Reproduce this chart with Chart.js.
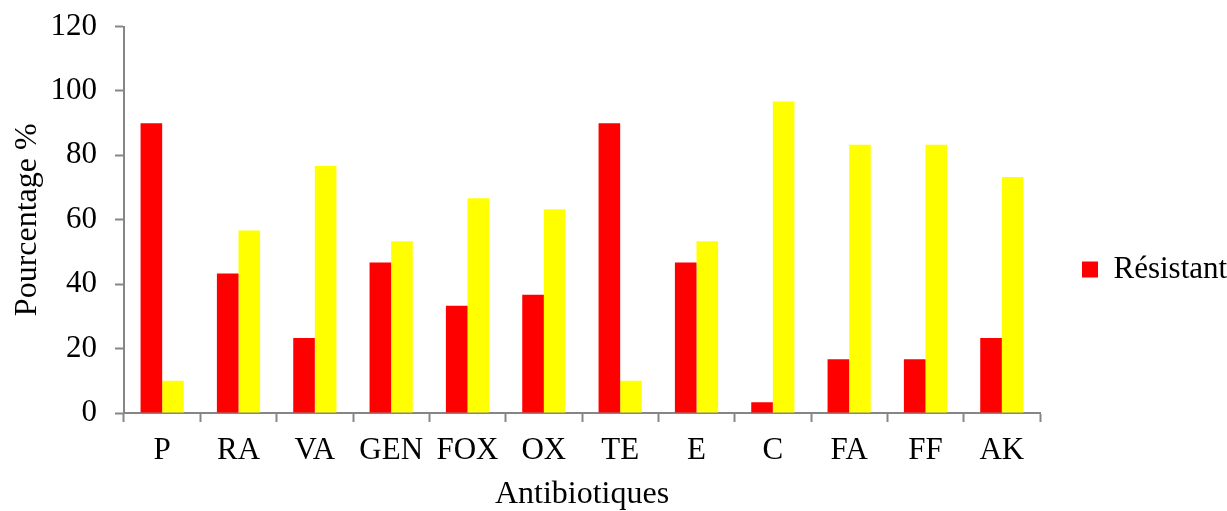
<!DOCTYPE html>
<html lang="fr">
<head>
<meta charset="utf-8">
<title>Antibiotiques</title>
<script src="https://cdn.jsdelivr.net/npm/chart.js@4.4.1/dist/chart.umd.min.js"></script>
<style>
  html, body { margin: 0; padding: 0; background: #ffffff; }
  #wrap { width: 1227px; height: 511px; position: relative; }
</style>
</head>
<body>
<div id="wrap"><canvas id="chart"></canvas></div>
<script>
// Antibiotics tested
const categories = ['P', 'RA', 'VA', 'GEN', 'FOX', 'OX', 'TE', 'E', 'C', 'FA', 'FF', 'AK'];

// Percentage of resistant strains
const resistant = [90, 43.3, 23.3, 46.7, 33.3, 36.7, 90, 46.7, 3.3, 16.7, 16.7, 23.3];

// Percentage of sensitive strains
const sensitive = [10, 56.7, 76.7, 53.3, 66.7, 63.3, 10, 53.3, 96.7, 83.3, 83.3, 73.3];

// Y-axis tick values
const yTicks = [0, 20, 40, 60, 80, 100, 120];

const serif = "'Liberation Serif', 'Times New Roman', serif";
const axisGrey = '#868686';

new Chart(document.getElementById('chart'), {
  type: 'bar',
  data: {
    labels: categories,
    datasets: [
      {
        label: 'Résistant',
        data: resistant,
        backgroundColor: '#FF0000',
        borderWidth: 0,
        categoryPercentage: 0.566,
        barPercentage: 1.0
      },
      {
        label: 'Sensible',
        data: sensitive,
        backgroundColor: '#FFFF00',
        borderWidth: 0,
        categoryPercentage: 0.566,
        barPercentage: 1.0
      }
    ]
  },
  options: {
    responsive: true,
    maintainAspectRatio: false,
    animation: false,
    layout: { padding: { top: 24, left: 0, right: 0, bottom: 0 } },
    plugins: {
      tooltip: { enabled: false },
      legend: {
        position: 'right',
        align: 'center',
        maxWidth: 187,
        title: {
          display: true,
          text: ' ',
          font: { size: 4, lineHeight: 1 },
          padding: 0
        },
        labels: {
          boxWidth: 16,
          boxHeight: 16,
          padding: 42,
          color: '#000000',
          font: { family: serif, size: 31, lineHeight: 1 },
          filter: (item) => item.datasetIndex === 0
        }
      }
    },
    scales: {
      x: {
        grid: {
          display: true,
          drawOnChartArea: false,
          drawTicks: true,
          tickLength: 9,
          tickWidth: 2,
          color: axisGrey,
          offset: true
        },
        border: { display: true, color: axisGrey, width: 2 },
        ticks: {
          color: '#000000',
          padding: 10,
          maxRotation: 0,
          autoSkip: false,
          font: { family: serif, size: 31, lineHeight: 1.2 }
        },
        title: {
          display: true,
          text: 'Antibiotiques',
          color: '#000000',
          font: { family: serif, size: 32, lineHeight: 1 },
          padding: { top: 0, bottom: 0 }
        },
        afterFit: (scale) => { scale.height = 98; }
      },
      y: {
        min: 0,
        max: 120,
        grid: {
          display: true,
          drawOnChartArea: false,
          drawTicks: true,
          tickLength: 9,
          tickWidth: 2,
          color: axisGrey
        },
        border: { display: true, color: axisGrey, width: 2 },
        afterBuildTicks: (scale) => {
          scale.ticks = yTicks.map((v) => ({ value: v }));
        },
        ticks: {
          color: '#000000',
          padding: 18,
          font: { family: serif, size: 31, lineHeight: 0.55 }
        },
        title: {
          display: true,
          text: 'Pourcentage %',
          color: '#000000',
          font: { family: serif, size: 32, lineHeight: 1 },
          padding: { top: 12, bottom: 0 }
        },
        afterFit: (scale) => { scale.width = 124; }
      }
    }
  }
});
</script>
</body>
</html>
